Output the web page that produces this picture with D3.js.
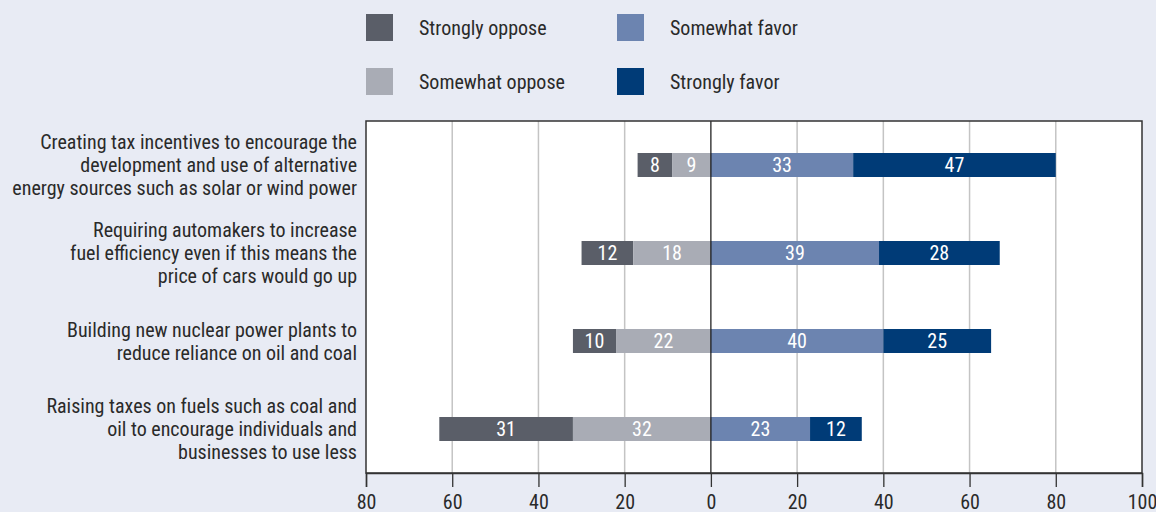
<!DOCTYPE html>
<html>
<head>
<meta charset="utf-8">
<script src="https://cdn.jsdelivr.net/npm/d3@7"></script>
<style>
  body { margin: 0; background: #e8ebf4; }
  svg { display: block; font-family: "Liberation Sans Narrow", "Roboto Condensed", "Liberation Sans", sans-serif; }
</style>
</head>
<body>
<svg width="1156" height="512"></svg>
<script>
// data
var questions = [
    ["Creating tax incentives to encourage the", "development and use of alternative", "energy sources such as solar or wind power"],
    ["Requiring automakers to increase", "fuel efficiency even if this means the", "price of cars would go up"],
    ["Building new nuclear power plants to", "reduce reliance on oil and coal"],
    ["Raising taxes on fuels such as coal and", "oil to encourage individuals and", "businesses to use less"]
]
var stronglyOppose = [8, 12, 10, 31]
var somewhatOppose = [9, 18, 22, 32]
var somewhatFavor = [33, 39, 40, 23]
var stronglyFavor = [47, 28, 25, 12]
var ticks = [-80, -60, -40, -20, 0, 20, 40, 60, 80, 100]

var colors = {
    so: "#5a5e68",
    mo: "#a9acb5",
    mf: "#6c84b0",
    sf: "#003b77"
}

var svg = d3.select("svg")
var pLeft = 366, pRight = 1142, pTop = 121, pBottom = 473

var x = d3.scaleLinear().domain([-80, 100]).range([pLeft, pRight])
var y = d3.scaleBand().domain(d3.range(questions.length)).range([pTop, pBottom])

// plot background
svg.append("rect")
    .attr("x", pLeft).attr("y", pTop)
    .attr("width", pRight - pLeft).attr("height", pBottom - pTop)
    .attr("fill", "#fff")

// grid
svg.selectAll(".grid").data(ticks.filter(function(t) { return t != 0 && t != -80 && t != 100 }))
    .enter().append("line")
    .attr("x1", function(d) { return x(d) }).attr("x2", function(d) { return x(d) })
    .attr("y1", pTop).attr("y2", pBottom)
    .attr("stroke", "#c4c4c4").attr("stroke-width", 1.5)

// build segments
var segs = []
for (var i = 0; i < questions.length; i++) {
    var a = stronglyOppose[i], b = somewhatOppose[i], c = somewhatFavor[i], d = stronglyFavor[i]
    segs.push({ row: i, x0: -(a + b), x1: -b, v: a, c: colors.so })
    segs.push({ row: i, x0: -b, x1: 0, v: b, c: colors.mo })
    segs.push({ row: i, x0: 0, x1: c, v: c, c: colors.mf })
    segs.push({ row: i, x0: c, x1: c + d, v: d, c: colors.sf })
}

var barH = 24
svg.selectAll(".seg").data(segs).enter().append("rect")
    .attr("x", function(d) { return x(d.x0) })
    .attr("width", function(d) { return x(d.x1) - x(d.x0) })
    .attr("y", function(d) { return y(d.row) + y.bandwidth() / 2 - barH / 2 })
    .attr("height", barH)
    .attr("fill", function(d) { return d.c })

svg.selectAll(".val").data(segs).enter().append("text")
    .attr("x", function(d) { return (x(d.x0) + x(d.x1)) / 2 })
    .attr("y", function(d) { return y(d.row) + y.bandwidth() / 2 + 7 })
    .attr("text-anchor", "middle")
    .attr("fill", "#fff")
    .attr("font-size", 20)
    .text(function(d) { return d.v })

// zero line
svg.append("line")
    .attr("x1", x(0)).attr("x2", x(0))
    .attr("y1", pTop).attr("y2", pBottom)
    .attr("stroke", "#111").attr("stroke-width", 1.2)

// frame
svg.append("rect")
    .attr("x", pLeft).attr("y", pTop)
    .attr("width", pRight - pLeft).attr("height", pBottom - pTop)
    .attr("fill", "none").attr("stroke", "#333").attr("stroke-width", 1.5)

// axis
var axis = svg.append("g")
    .attr("transform", "translate(0," + pBottom + ")")
    .call(d3.axisBottom(x).tickValues(ticks).tickSize(14).tickPadding(8)
        .tickFormat(function(d) { return Math.abs(d) }))
axis.attr("font-family", null).attr("font-size", null)
axis.select(".domain").attr("stroke", "#333").attr("stroke-width", 1.5)
axis.selectAll(".tick line").attr("stroke", "#333").attr("stroke-width", 1.3)
axis.selectAll(".tick text").attr("font-size", 20).attr("fill", "#2a2a2a")

// row labels
svg.selectAll(".qlab").data(questions).enter().append("text")
    .attr("text-anchor", "end")
    .attr("font-size", 20)
    .attr("fill", "#2a2a2a")
    .each(function(lines, i) {
        var cy = y(i) + y.bandwidth() / 2
        var lh = 23
        var first = cy - (lines.length - 1) * lh / 2 + 7
        d3.select(this).selectAll("tspan").data(lines).enter().append("tspan")
            .attr("x", 357)
            .attr("y", function(d, j) { return first + j * lh })
            .text(function(d) { return d })
    })

// legend
var legend = [
    { name: "Strongly oppose", c: colors.so, lx: 366, ly: 14 },
    { name: "Somewhat oppose", c: colors.mo, lx: 366, ly: 68 },
    { name: "Somewhat favor", c: colors.mf, lx: 617, ly: 14 },
    { name: "Strongly favor", c: colors.sf, lx: 617, ly: 68 }
]
var lg = svg.selectAll(".leg").data(legend).enter().append("g")
    .attr("transform", function(d) { return "translate(" + d.lx + "," + d.ly + ")" })
lg.append("rect").attr("width", 27).attr("height", 27).attr("fill", function(d) { return d.c })
lg.append("text").attr("x", 53).attr("y", 21)
    .attr("font-size", 20).attr("fill", "#2a2a2a")
    .text(function(d) { return d.name })
</script>
</body>
</html>
